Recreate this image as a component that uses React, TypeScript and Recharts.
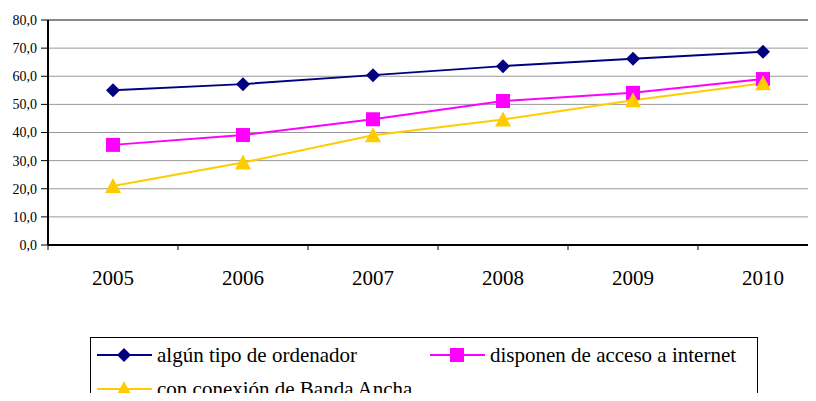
import React from "react";
import {
  CartesianGrid,
  Line,
  LineChart,
  ReferenceLine,
  XAxis,
  YAxis,
} from "recharts";

const years = ["2005", "2006", "2007", "2008", "2009", "2010"];
const ordenador = [55.0, 57.2, 60.4, 63.6, 66.2, 68.7];
const internet = [35.6, 39.1, 44.7, 51.2, 54.1, 59.0];
const bandaAncha = [21.0, 29.3, 39.0, 44.6, 51.5, 57.5];
const yTicks = [0, 10, 20, 30, 40, 50, 60, 70, 80];

const seriesNames = [
  "algún tipo de ordenador",
  "disponen de acceso a internet",
  "con conexión de Banda Ancha",
];
const NAVY = "#000080";
const MAGENTA = "#FF00FF";
const YELLOW = "#FFCC00";
const FONT = '"Liberation Serif", serif';

const data = years.map((year, i) => ({
  year,
  ordenador: ordenador[i],
  internet: internet[i],
  banda: bandaAncha[i],
}));

const PLOT_WIDTH = 780;
const HALF_BAND = PLOT_WIDTH / years.length / 2;

const Diamond = ({ cx, cy }: any) =>
  cx == null ? null : (
    <polygon
      points={`${cx},${cy - 7} ${cx + 7},${cy} ${cx},${cy + 7} ${cx - 7},${cy}`}
      fill={NAVY}
    />
  );

const Square = ({ cx, cy }: any) =>
  cx == null ? null : (
    <rect x={cx - 7} y={cy - 7} width={14} height={14} fill={MAGENTA} />
  );

const Triangle = ({ cx, cy }: any) =>
  cx == null ? null : (
    <polygon
      points={`${cx},${cy - 8} ${cx + 8},${cy + 7} ${cx - 8},${cy + 7}`}
      fill={YELLOW}
    />
  );

const XTick = ({ x, y, payload }: any) => (
  <g>
    <line
      x1={x - HALF_BAND}
      x2={x - HALF_BAND}
      y1={y}
      y2={y + 5}
      stroke="#000"
      strokeWidth={1}
    />
    <text
      x={x}
      y={y + 40}
      textAnchor="middle"
      fontFamily={FONT}
      fontSize={21}
      fill="#000"
    >
      {payload.value}
    </text>
  </g>
);

function LegendIcon({ color, Shape }: { color: string; Shape: any }) {
  return (
    <svg width={55} height={18} style={{ display: "block" }}>
      <line x1={0} x2={55} y1={9} y2={9} stroke={color} strokeWidth={2} />
      <Shape cx={27} cy={9} />
    </svg>
  );
}

function LegendItem({
  left,
  top,
  color,
  Shape,
  label,
}: {
  left: number;
  top: number;
  color: string;
  Shape: any;
  label: string;
}) {
  return (
    <div
      style={{
        position: "absolute",
        left,
        top,
        height: 24,
        display: "flex",
        alignItems: "center",
        fontFamily: FONT,
        fontSize: 21,
        whiteSpace: "nowrap",
        lineHeight: "24px",
      }}
    >
      <LegendIcon color={color} Shape={Shape} />
      <span style={{ marginLeft: 5 }}>{label}</span>
    </div>
  );
}

export default function App() {
  return (
    <div
      style={{
        position: "relative",
        margin: -8,
        width: 816,
        height: 401,
        overflow: "hidden",
        background: "#fff",
      }}
    >
      <LineChart
        width={830}
        height={401}
        data={data}
        margin={{ top: 20, right: 2, left: 0, bottom: 0 }}
      >
        <CartesianGrid vertical={false} stroke="#999" strokeWidth={1} />
        <ReferenceLine y={80} stroke="#888" strokeWidth={2} />
        <XAxis
          dataKey="year"
          scale="band"
          height={156}
          tickSize={0}
          tickMargin={0}
          tickLine={false}
          tick={<XTick />}
          axisLine={{ stroke: "#000", strokeWidth: 2 }}
          interval={0}
        />
        <YAxis
          width={48}
          domain={[0, 80]}
          ticks={yTicks}
          tickSize={7}
          tickMargin={4}
          tickFormatter={(v: number) => v.toFixed(1).replace(".", ",")}
          tick={{ fontFamily: FONT, fontSize: 14, fill: "#000" }}
          tickLine={{ stroke: "#000" }}
          axisLine={{ stroke: "#000", strokeWidth: 2 }}
        />
        <Line
          dataKey="ordenador"
          stroke={NAVY}
          strokeWidth={2}
          dot={<Diamond />}
          isAnimationActive={false}
        />
        <Line
          dataKey="internet"
          stroke={MAGENTA}
          strokeWidth={2}
          dot={<Square />}
          isAnimationActive={false}
        />
        <Line
          dataKey="banda"
          stroke={YELLOW}
          strokeWidth={2}
          dot={<Triangle />}
          isAnimationActive={false}
        />
      </LineChart>
      <div
        style={{
          position: "absolute",
          left: 90,
          top: 337,
          width: 668,
          height: 80,
          border: "1px solid #000",
          boxSizing: "border-box",
        }}
      />
      <LegendItem left={97} top={343} color={NAVY} Shape={Diamond} label={seriesNames[0]} />
      <LegendItem left={430} top={343} color={MAGENTA} Shape={Square} label={seriesNames[1]} />
      <LegendItem left={97} top={377} color={YELLOW} Shape={Triangle} label={seriesNames[2]} />
    </div>
  );
}
